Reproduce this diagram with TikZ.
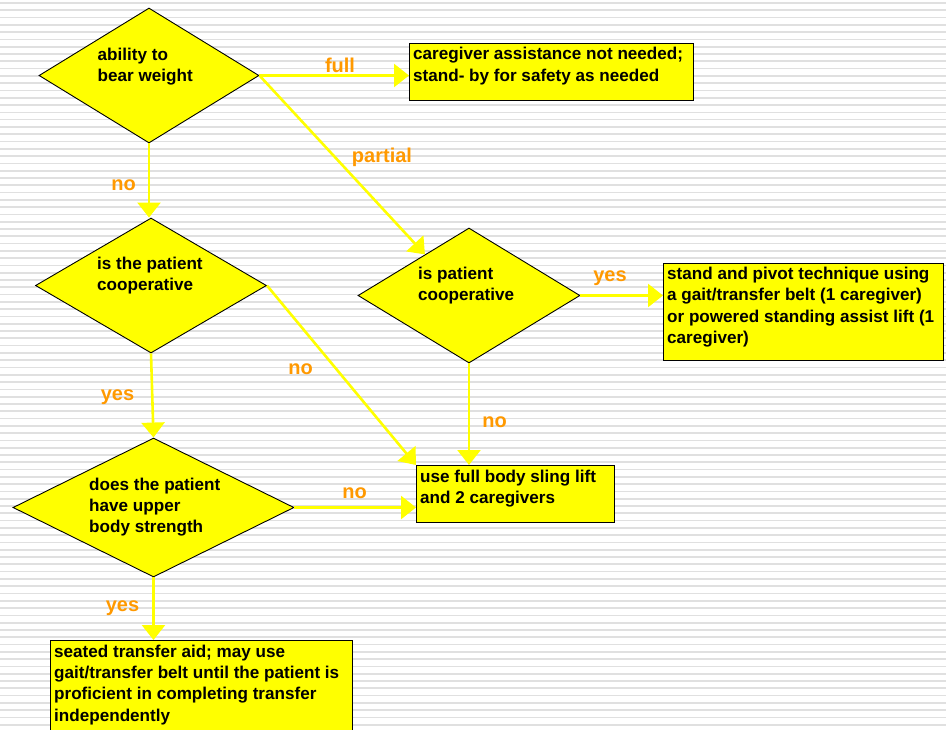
\documentclass[tikz,border=0pt]{standalone}
\usepackage{fontspec}
\setmainfont{Liberation Sans}
\usetikzlibrary{shapes.geometric,arrows.meta}
\definecolor{boxyellow}{HTML}{FFFF00}
\definecolor{labelorange}{HTML}{FF9900}
\definecolor{stripegray}{HTML}{E0E0E0}
\begin{document}
\begin{tikzpicture}[x=1pt,y=-1pt,
    decision/.style={diamond,draw=black,line width=0.9pt,fill=boxyellow,inner sep=0pt},
    outcome/.style={rectangle,draw=black,line width=0.9pt,fill=boxyellow,inner sep=0pt,anchor=north west},
    boxtext/.style={inner sep=0pt,anchor=base west,align=left,font=\fontsize{17.1}{21.3}\selectfont\bfseries},
    answer/.style={inner sep=0pt,anchor=base,text=labelorange,font=\fontsize{20}{24}\selectfont\bfseries},
    flow/.style={draw=boxyellow,line width=2.6pt,-{Triangle[width=23pt,length=15pt]}}]
    \useasboundingbox (0,0) rectangle (946,729);
    \clip (0,0) rectangle (946,729);
    \fill[white] (0,0) rectangle (946,729);
    \foreach \k in {0,...,99}
        \draw[stripegray,line width=1.7pt] (0,{3+7.29*\k}) -- (946,{3+7.29*\k});

    \node[decision,minimum width=220pt,minimum height=135pt] (bear) at (149,75.5) {};
    \node[boxtext] (beartxt) at (97.5,81.3) {ability to\\bear weight};
    \node[decision,minimum width=231pt,minimum height=135pt] (coopleft) at (151,285.5) {};
    \node[boxtext] (cooplefttxt) at (97,290.3) {is the patient\\cooperative};
    \node[decision,minimum width=222pt,minimum height=135pt] (coopright) at (469,295.5) {};
    \node[boxtext] (cooprighttxt) at (418,300.3) {is patient\\cooperative};
    \node[decision,minimum width=281pt,minimum height=139pt] (upper) at (153.5,507.5) {};
    \node[boxtext] (uppertxt) at (89,532.8) {does the patient\\have upper\\body strength};

    \node[outcome,minimum width=284pt,minimum height=57pt] (noassist) at (409,43) {};
    \node[boxtext] (noassisttxt) at (413,81) {caregiver assistance not needed;\\stand- by for safety as needed};
    \node[outcome,minimum width=280pt,minimum height=97pt] (pivot) at (663,263) {};
    \node[boxtext] (pivottxt) at (667,343.5) {stand and pivot technique using\\a gait/transfer belt (1 caregiver)\\or powered standing assist lift (1\\caregiver)};
    \node[outcome,minimum width=198pt,minimum height=57pt] (sling) at (416,465) {};
    \node[boxtext] (slingtxt) at (420,503.3) {use full body sling lift\\and 2 caregivers};
    \node[outcome,minimum width=302pt,minimum height=110pt] (seated) at (50,640) {};
    \node[boxtext] (seatedtxt) at (54,721.2) {seated transfer aid; may use\\gait/transfer belt until the patient is\\proficient in completing transfer\\independently};

    \draw[flow] (bear.east) -- (bear.east -| noassist.west);
    \draw[flow] (bear.east) -- (coopright.137);
    \draw[flow] (bear.south) -- (bear.south |- coopleft.north);
    \draw[flow] (coopleft.east) -- (sling.north west);
    \draw[flow] (coopleft.south) -- (upper.north);
    \draw[flow] (coopright.east) -- (coopright.east -| pivot.west);
    \draw[flow] (coopright.south) -- (coopright.south |- sling.north);
    \draw[flow] (upper.east) -- (upper.east -| sling.west);
    \draw[flow] (upper.south) -- (upper.south |- seated.north);

    \node[answer] (fulllbl) at (340,72) {full};
    \node[answer] (partiallbl) at (382,162.7) {partial};
    \node[answer] (nolbla) at (123.5,190.7) {no};
    \node[answer] (yeslbla) at (117.5,400.7) {yes};
    \node[answer] (nolblb) at (300.5,374) {no};
    \node[answer] (yeslblb) at (610,281.7) {yes};
    \node[answer] (nolblc) at (494.5,427.7) {no};
    \node[answer] (nolbld) at (354.5,498.3) {no};
    \node[answer] (yeslblc) at (122.5,611.7) {yes};
\end{tikzpicture}
\end{document}
